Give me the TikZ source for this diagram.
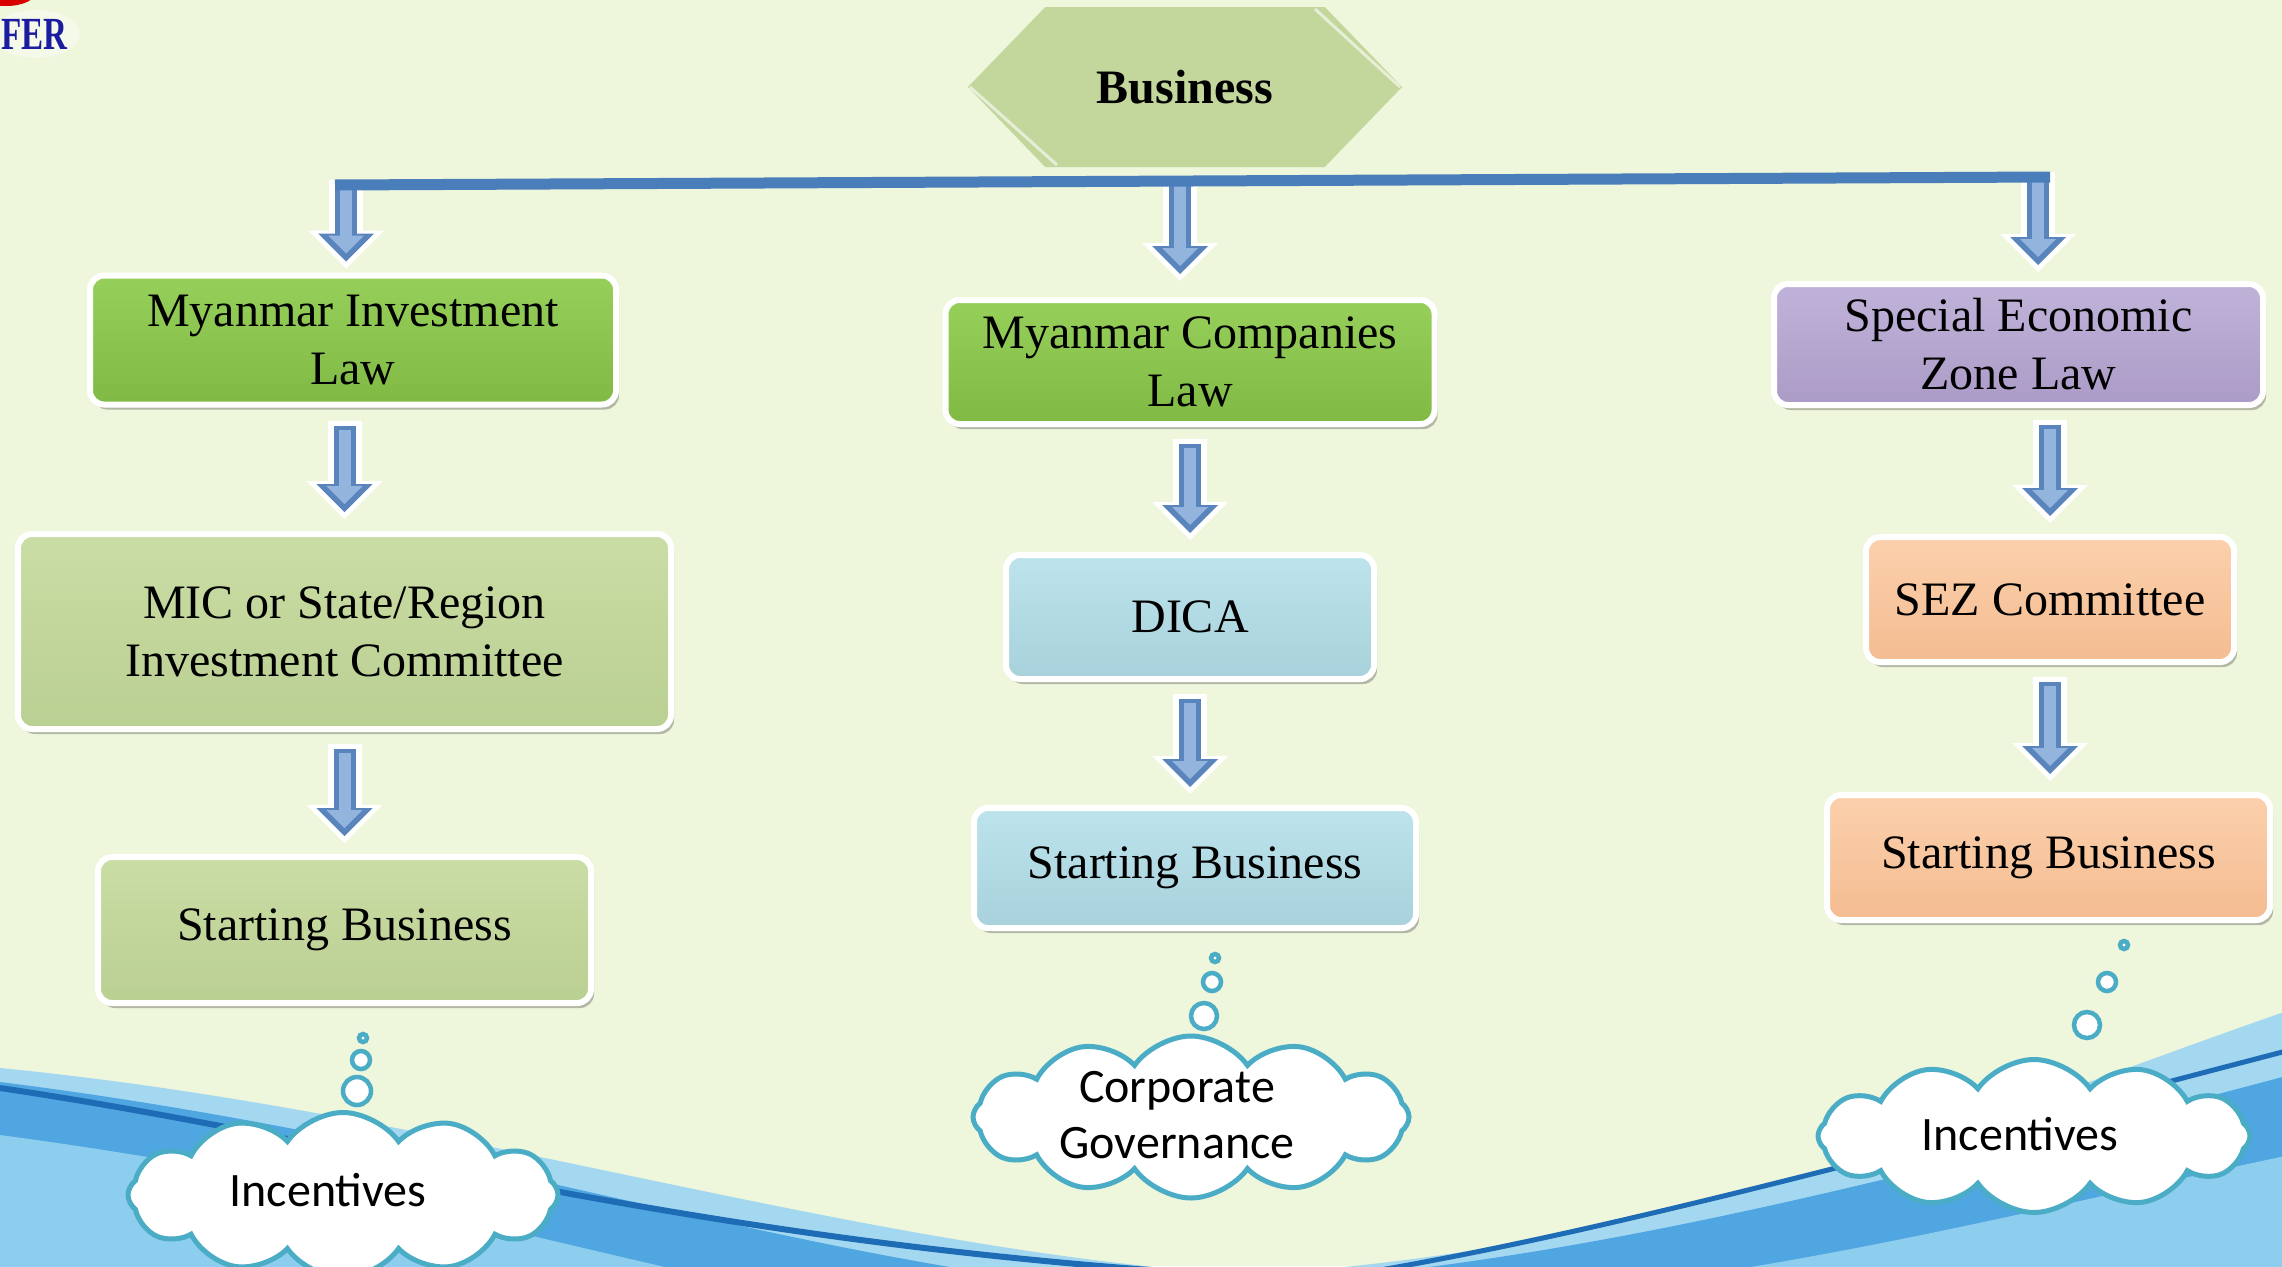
\documentclass[tikz,border=0pt]{standalone}
\usepackage{fontspec}
\setmainfont{Liberation Serif}
\newfontfamily\cloudfont{Carlito}
\usetikzlibrary{shapes.symbols,arrows.meta,shadows}
\definecolor{bgc}{HTML}{EEF6DC}
\definecolor{lineblue}{HTML}{4A7EBB}
\definecolor{arrdark}{HTML}{5A84BC}
\definecolor{arrlight}{HTML}{93B4DD}
\definecolor{cloudc}{HTML}{4BACC6}
\definecolor{grtop}{HTML}{96D05A}
\definecolor{grbot}{HTML}{80BA45}
\definecolor{oltop}{HTML}{CADDA5}
\definecolor{olbot}{HTML}{BACF92}
\definecolor{bltop}{HTML}{BDE4ED}
\definecolor{blbot}{HTML}{A8D1DB}
\definecolor{pptop}{HTML}{C0B3D9}
\definecolor{ppbot}{HTML}{AB9BC7}
\definecolor{pctop}{HTML}{FBD0AC}
\definecolor{pcbot}{HTML}{F4BC91}
\definecolor{hexc}{HTML}{C3D69B}
\definecolor{logoblue}{HTML}{1C1CA0}
\definecolor{wlight}{HTML}{A4D8F1}
\definecolor{wmid}{HTML}{4FA6E0}
\definecolor{wpale}{HTML}{8DCDEE}
\definecolor{wdark}{HTML}{1E6CB5}
\newcommand\blockarrow[2]{%
  \draw[arrout] #1 -- #2;
  \draw[arrmid] #1 -- #2;
  \draw[arrin] #1 -- #2;}
\tikzset{
  box/.style={rounded corners=14pt, draw=white, line width=6pt, align=center,
    inner sep=0pt, font=\fontsize{48}{58}\selectfont,
    drop shadow={shadow xshift=3pt, shadow yshift=-5pt, opacity=0.25, fill=black}},
  greenbox/.style={box, top color=grtop, bottom color=grbot},
  olivebox/.style={box, top color=oltop, bottom color=olbot},
  bluebox/.style={box, top color=bltop, bottom color=blbot},
  purplebox/.style={box, top color=pptop, bottom color=ppbot},
  peachbox/.style={box, top color=pctop, bottom color=pcbot},
  arrout/.style={draw=white, line width=34pt, shorten <=-5pt, shorten >=-7pt,
    -{Triangle[length=38pt,width=76pt,line width=0pt]}},
  arrmid/.style={draw=arrdark, line width=22pt,
    -{Triangle[length=28pt,width=56pt,line width=0pt]}},
  arrin/.style={draw=arrlight, line width=12pt, shorten <=4pt, shorten >=8pt,
    -{Triangle[length=18pt,width=36pt,line width=0pt]}},
  bubble/.style={circle, draw=cloudc, line width=4.5pt, fill=white, inner sep=0pt},
  thought/.style={cloud, cloud puffs=12, cloud puff arc=110, aspect=2.8,
    draw=cloudc, line width=5pt, fill=white, inner sep=0pt},
  cloudtext/.style={align=center, inner sep=0pt,
    font=\cloudfont\fontsize{48}{56}\selectfont},
}
\begin{document}
\begin{tikzpicture}[x=1pt,y=-1pt]
\useasboundingbox (0,0) rectangle (2282,1266);
\fill[bgc] (0,0) rectangle (2282,1266);

% bottom waves
\begin{scope}
\clip (0,0) rectangle (2282,1266);
\fill[wlight] (0,1068) .. controls (450,1112) and (850,1250) .. (1250,1275) -- (0,1275) -- cycle;
\fill[wmid] (0,1082) .. controls (400,1132) and (700,1230) .. (1000,1275) -- (0,1275) -- cycle;
\fill[wpale] (0,1135) .. controls (300,1175) and (500,1230) .. (700,1275) -- (0,1275) -- cycle;
\draw[wdark, line width=6pt] (0,1088) .. controls (350,1140) and (650,1232) .. (1150,1270);
\fill[wlight] (1250,1275) .. controls (1700,1245) and (2000,1110) .. (2290,1010) -- (2290,1275) -- cycle;
\fill[wmid] (1360,1275) .. controls (1650,1245) and (1950,1165) .. (2290,1075) -- (2290,1275) -- cycle;
\fill[wpale] (1700,1275) .. controls (1900,1245) and (2100,1195) .. (2290,1155) -- (2290,1275) -- cycle;
\draw[wdark, line width=5pt] (1380,1270) .. controls (1600,1232) and (1850,1165) .. (2290,1050);
\end{scope}

% logo fragment
\fill[white, opacity=0.4] (36,34) ellipse (44pt and 24pt);
\fill[red!85!black] (6,-8) ellipse (30pt and 14pt);
\node[anchor=west, inner sep=0pt, text=logoblue, font=\fontsize{46}{46}\selectfont\bfseries] (logo) at (1,34) {\scalebox{0.72}[1]{FER}};

% top node
\node[signal, signal to=east and west, signal pointer angle=92, fill=hexc,
  minimum width=434pt, minimum height=160pt, inner sep=0pt,
  font=\fontsize{48}{58}\selectfont\bfseries] (biz) at (1185,87) {Business};
\draw[white, line width=3pt, opacity=0.6] (1315,9) -- (1400,87);
\draw[white, line width=3pt, opacity=0.6] (970,87) -- (1057,165);

% boxes
\node[greenbox, minimum width=526pt, minimum height=129pt] (b1) at (353,340) {Myanmar Investment\\Law};
\node[olivebox, minimum width=653pt, minimum height=195pt] (b2) at (344.5,631.5) {MIC or State/Region\\Investment Committee};
\node[olivebox, minimum width=493pt, minimum height=146pt] (b3) at (344.5,930) {Starting Business};

\node[greenbox, minimum width=489pt, minimum height=124pt] (m1) at (1190,362) {Myanmar Companies\\Law};
\node[bluebox, minimum width=368pt, minimum height=124pt] (m2) at (1190,617) {DICA};
\node[bluebox, minimum width=442pt, minimum height=120pt] (m3) at (1195,868) {Starting Business};

\node[purplebox, minimum width=489pt, minimum height=121pt] (r1) at (2018.5,344.5) {Special Economic\\Zone Law};
\node[peachbox, minimum width=368pt, minimum height=125pt] (r2) at (2050,599.5) {SEZ Committee};
\node[peachbox, minimum width=443pt, minimum height=125pt] (r3) at (2048.5,857.5) {Starting Business};

% branch line
\coordinate (hl) at (335,185);
\coordinate (hr) at (2050,177);
\coordinate (j1) at (346,185);
\coordinate (j2) at (1180,181);
\coordinate (j3) at (2038,177);

\blockarrow{(j1)}{([yshift=11pt]j1 |- b1.north)}
\blockarrow{(j2)}{([yshift=23pt]j2 |- m1.north)}
\blockarrow{(j3)}{([yshift=16pt]j3 |- r1.north)}
\draw[lineblue, line width=11pt] (hl) -- (hr);

\blockarrow{([yshift=-18pt]b2.north |- b1.south)}{([yshift=19pt]b2.north)}
\blockarrow{([yshift=-17pt]b2.south)}{([yshift=18pt]b3.north)}
\blockarrow{([yshift=-17pt]m1.south)}{([yshift=19pt]m1.south |- m2.north)}
\blockarrow{([yshift=-17pt]m2.south)}{([yshift=18pt]m2.south |- m3.north)}
\blockarrow{([yshift=-17pt]r2.north |- r1.south)}{([yshift=18pt]r2.north)}
\blockarrow{([yshift=-17pt]r2.south)}{([yshift=18pt]r2.south |- r3.north)}

% thought bubbles
\node[bubble, minimum size=8pt] (p1a) at (363,1038) {};
\node[bubble, minimum size=18pt] (p1b) at (361,1060) {};
\node[bubble, minimum size=28pt] (p1c) at (357,1091) {};
\node[bubble, minimum size=8pt] (p2a) at (1215,958) {};
\node[bubble, minimum size=18pt] (p2b) at (1212,982) {};
\node[bubble, minimum size=26pt] (p2c) at (1204,1016) {};
\node[bubble, minimum size=8pt] (p3a) at (2124,945) {};
\node[bubble, minimum size=18pt] (p3b) at (2107,982) {};
\node[bubble, minimum size=26pt] (p3c) at (2087,1025) {};

\node[thought, minimum width=430pt, minimum height=165pt] (c1) at (343,1195) {};
\node[thought, minimum width=436pt, minimum height=162pt] (c2) at (1191,1117) {};
\node[thought, minimum width=432pt, minimum height=153pt] (c3) at (2034,1136) {};
\node[cloudtext] (t1) at (328,1190) {Incentives};
\node[cloudtext] (t2) at (1177,1115) {Corporate\\Governance};
\node[cloudtext] (t3) at (2020,1134) {Incentives};
\end{tikzpicture}
\end{document}
